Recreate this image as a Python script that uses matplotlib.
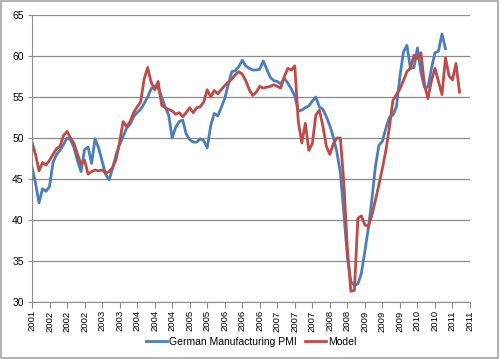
# German Manufacturing PMI vs model, Excel-style line chart
import matplotlib
matplotlib.use("Agg")
import matplotlib.pyplot as plt
from matplotlib.patches import Rectangle

# values, one per month-ish category
pmi = [46.5, 44.5, 42.1, 43.8, 43.5, 44.1, 47.0, 48.0, 48.5, 49.2,
       50.0, 49.8, 48.8, 47.2, 45.9, 48.6, 48.9, 46.9, 49.9, 48.8,
       47.2, 45.6, 44.9, 46.3, 48.0, 49.2, 50.2, 51.2, 51.7, 52.6,
       53.1, 53.5, 54.2, 55.0, 56.0, 56.3, 56.1, 55.0, 53.8, 52.8,
       50.0, 51.3, 52.0, 52.2, 50.5, 49.8, 49.5, 49.5, 49.9, 49.7,
       48.8, 51.5, 53.0, 52.7, 53.7, 54.8, 56.5, 58.1, 58.2, 58.7,
       59.5, 58.8, 58.5, 58.3, 58.3, 58.4, 59.4, 58.4, 57.4, 57.0,
       56.9, 56.6, 57.3, 56.7, 56.0, 55.1, 53.3, 53.4, 53.7, 53.9,
       54.5, 55.0, 53.8, 53.5, 52.6, 51.5, 50.1, 48.3, 45.8, 40.8,
       35.5, 32.5, 32.0, 32.2, 33.5, 36.2, 39.0, 42.5, 46.5, 49.1,
       49.6, 51.2, 52.5, 52.8, 53.8, 57.5, 60.5, 61.3, 58.5, 58.6,
       61.0, 58.0, 56.2, 56.2, 58.5, 60.4, 60.6, 62.7, 60.9]

model = [49.5, 48.0, 46.0, 47.0, 46.7, 47.3, 48.0, 48.7, 49.0, 50.3,
         50.8, 50.0, 49.3, 48.0, 46.8, 47.3, 45.6, 45.9, 46.1, 46.0,
         46.1, 45.7, 45.9, 46.4, 47.4, 49.5, 52.0, 51.4, 52.0, 53.1,
         53.8, 54.4, 57.2, 58.6, 56.8, 55.9, 56.9, 54.0, 53.7, 53.5,
         53.3, 52.9, 53.1, 52.6, 53.1, 53.7, 53.1, 53.7, 53.8, 54.4,
         55.9, 55.0, 55.8, 55.4, 55.9, 56.4, 56.8, 57.2, 57.7, 58.1,
         57.8, 57.0, 55.9, 55.2, 55.6, 56.3, 56.1, 56.2, 56.3, 56.5,
         56.3, 56.1, 57.5, 58.5, 58.3, 58.8, 52.0, 49.4, 51.8, 48.5,
         49.3, 52.8, 53.4, 51.5, 49.0, 48.0, 49.3, 50.0, 50.0, 44.5,
         36.5, 31.3, 31.4, 40.2, 40.5, 39.4, 39.2, 40.6, 42.4, 44.3,
         46.3, 48.5, 51.3, 54.6, 55.3, 56.0, 57.0, 58.1, 58.5, 60.1,
         59.7, 60.4, 56.5, 54.8, 57.0, 58.5, 56.9, 55.3, 59.8, 57.6,
         57.1, 59.1, 55.6]

year_labels = ["2001", "2002", "2002", "2002", "2003", "2003", "2004", "2004",
               "2004", "2005", "2005", "2006", "2006", "2006", "2007", "2007",
               "2007", "2008", "2008", "2009", "2009", "2009", "2010", "2010",
               "2011", "2011"]

plt.rcParams["font.family"] = ["Liberation Sans", "DejaVu Sans"]

fig = plt.figure(figsize=(5.0, 3.59), dpi=100)
fig.patches.append(Rectangle((0.002, 0.003), 0.994, 0.993, transform=fig.transFigure,
                             fill=False, edgecolor="#a6a6a6", linewidth=1.2))
ax = fig.add_axes([0.064, 0.159, 0.876, 0.799])

n_cat = 5 * (len(year_labels) - 1)
ax.plot(range(len(pmi)), pmi, color="#4a7ebb", lw=2, label="German Manufacturing PMI")
ax.plot(range(len(model)), model, color="#be4b48", lw=2, label="Model")

ax.set_xlim(0, n_cat)
ax.set_ylim(30, 65)
ax.set_yticks(range(30, 66, 5))
ax.set_xticks(range(0, n_cat + 1, 5))
ax.set_xticklabels(year_labels, rotation=90)
ax.grid(axis="y", color="#8c8c8c", lw=0.9)
ax.set_axisbelow(True)

for side in ["top", "right"]:
    ax.spines[side].set_visible(False)
ax.spines["left"].set_color("#8c8c8c")
ax.spines["bottom"].set_color("#8c8c8c")
ax.tick_params(axis="y", labelsize=7.5, length=3, color="#8c8c8c", pad=3)
ax.tick_params(axis="x", labelsize=6.8, length=4, color="#8c8c8c", pad=2)

ax.legend(loc="center", bbox_to_anchor=(0.5, -0.14), ncol=2, frameon=False,
          fontsize=7.5, handlelength=2, handletextpad=0.2, columnspacing=0.8,
          borderpad=0)

fig.savefig("out.png", dpi=100)
